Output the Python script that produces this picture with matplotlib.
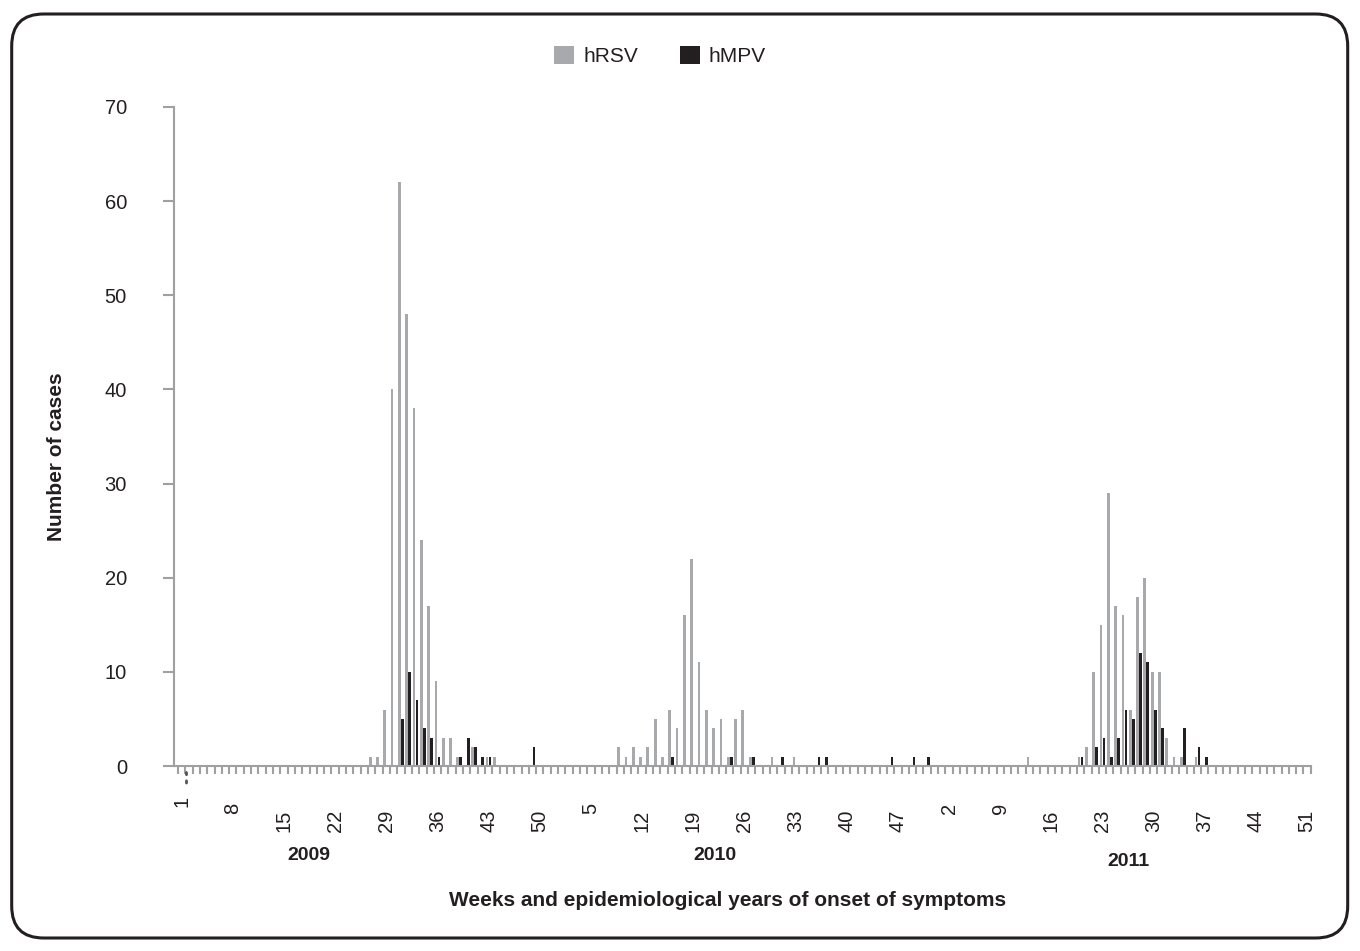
import matplotlib
matplotlib.use("Agg")
import matplotlib.pyplot as plt
from matplotlib.patches import FancyBboxPatch
import numpy as np

plt.rcParams['font.family'] = ['Liberation Sans', 'DejaVu Sans']

# Casos setmanals per any epidemiològic (2009 i 2010: 52 setmanes, 2011: 51)
rsv_2009 = [0, 0, 0, 0, 0, 0, 0, 0, 0, 0, 0, 0, 0, 0, 0, 0, 0, 0, 0, 0,
            0, 0, 0, 0, 0, 0, 1, 1, 6, 40, 62, 48, 38, 24, 17, 9, 3, 3, 1, 0,
            2, 0, 1, 1, 0, 0, 0, 0, 0, 0, 0, 0]
mpv_2009 = [0, 0, 0, 0, 0, 0, 0, 0, 0, 0, 0, 0, 0, 0, 0, 0, 0, 0, 0, 0,
            0, 0, 0, 0, 0, 0, 0, 0, 0, 0, 5, 10, 7, 4, 3, 1, 0, 0, 1, 3,
            2, 1, 1, 0, 0, 0, 0, 0, 2, 0, 0, 0]
rsv_2010 = [0, 0, 0, 0, 0, 0, 0, 0, 2, 1, 2, 1, 2, 5, 1, 6, 4, 16, 22, 11,
            6, 4, 5, 1, 5, 6, 1, 0, 0, 1, 0, 0, 1, 0, 0, 0, 0, 0, 0, 0,
            0, 0, 0, 0, 0, 0, 0, 0, 0, 0, 0, 0]
mpv_2010 = [0, 0, 0, 0, 0, 0, 0, 0, 0, 0, 0, 0, 0, 0, 0, 1, 0, 0, 0, 0,
            0, 0, 0, 1, 0, 0, 1, 0, 0, 0, 1, 0, 0, 0, 0, 1, 1, 0, 0, 0,
            0, 0, 0, 0, 0, 1, 0, 0, 1, 0, 1, 0]
rsv_2011 = [0, 0, 0, 0, 0, 0, 0, 0, 0, 0, 0, 0, 1, 0, 0, 0, 0, 0, 0, 1,
            2, 10, 15, 29, 17, 16, 6, 18, 20, 10, 10, 3, 1, 1, 0, 1, 0, 0, 0, 0,
            0, 0, 0, 0, 0, 0, 0, 0, 0, 0, 0]
mpv_2011 = [0, 0, 0, 0, 0, 0, 0, 0, 0, 0, 0, 0, 0, 0, 0, 0, 0, 0, 0, 1,
            0, 2, 3, 1, 3, 6, 5, 12, 11, 6, 4, 0, 0, 4, 0, 2, 1, 0, 0, 0,
            0, 0, 0, 0, 0, 0, 0, 0, 0, 0, 0]
years = ["2009", "2010", "2011"]

GRAY = "#a7a9ac"
DARK = "#231f20"
AXIS = "#a0a0a0"
W, H = 1360, 951

rsv = rsv_2009 + rsv_2010 + rsv_2011
mpv = mpv_2009 + mpv_2010 + mpv_2011
weeks = (list(range(1, len(rsv_2009) + 1)) + list(range(1, len(rsv_2010) + 1))
         + list(range(1, len(rsv_2011) + 1)))
x = np.arange(len(rsv))

fig = plt.figure(figsize=(W / 100, H / 100), dpi=100)
ax = fig.add_axes([174 / W, (H - 766) / H, 1136.8 / W, 659 / H])

b1 = ax.bar(x - 0.21, rsv, width=0.38, color=GRAY, label="hRSV")
b2 = ax.bar(x + 0.20, mpv, width=0.38, color=DARK, label="hMPV")

ax.set_xlim(-1.05, len(rsv) - 0.5)
ax.set_ylim(0, 70)
ax.set_yticks(range(0, 71, 10))
ax.set_xticks(np.arange(-0.5, len(rsv), 1.0))
ax.set_xticklabels([])

for s in ["top", "right"]:
    ax.spines[s].set_visible(False)
for s in ["left", "bottom"]:
    ax.spines[s].set_color(AXIS)
    ax.spines[s].set_linewidth(1.5)

ax.tick_params(axis="y", direction="out", length=7.9, width=1.5, color=AXIS,
               pad=26, labelsize=14.5, labelcolor=DARK)
ax.tick_params(axis="x", direction="out", length=5.5, width=1.5, color=AXIS)

# etiquetes de setmana cada 7 categories
tr = ax.get_xaxis_transform()
for i in range(0, len(weeks), 7):
    lab = str(weeks[i])
    if i == 0:
        yc = 801
    elif len(lab) == 1:
        yc = 808
    else:
        yc = 821
    ax.text(x[i], -(yc - 766) / 659, lab, rotation=90, ha="center", va="center",
            fontsize=14.5, color=DARK, transform=tr, clip_on=False)

# punts sota l'etiqueta "1"
ax.plot([0.55, 0.55], [-(772 - 766) / 659, -(787 - 766) / 659], transform=tr,
        ls=(0, (0.8, 2.2)), lw=2, color="#555555", clip_on=False,
        solid_capstyle="round", dash_capstyle="round")

year_pos = [(309, 856), (715, 856), (1128, 861)]
for yr, (px, py) in zip(years, year_pos):
    fig.text(px / W, 1 - py / H, yr, ha="center", va="center",
             fontsize=14, fontweight="bold", color=DARK)

fig.text(728 / W, 1 - 901 / H, "Weeks and epidemiological years of onset of symptoms",
         ha="center", va="center", fontsize=15, fontweight="bold", color=DARK)
fig.text(57 / W, 1 - 457 / H, "Number of cases", rotation=90, ha="center",
         va="center", fontsize=15, fontweight="bold", color=DARK)

fig.legend(handles=[b1, b2], loc="center", bbox_to_anchor=(660 / W, 1 - 56 / H),
           ncol=2, frameon=False, fontsize=15, handlelength=0.96, handleheight=0.96,
           handletextpad=0.42, columnspacing=2.0, labelcolor=DARK)

# marc arrodonit
frame = FancyBboxPatch((0.117, 0.13), 13.36, 9.24,
                       boxstyle="round,pad=0,rounding_size=0.32",
                       transform=fig.dpi_scale_trans, fill=False,
                       edgecolor=DARK, linewidth=2.2)
fig.patches.append(frame)

fig.savefig("out.png", dpi=100)
